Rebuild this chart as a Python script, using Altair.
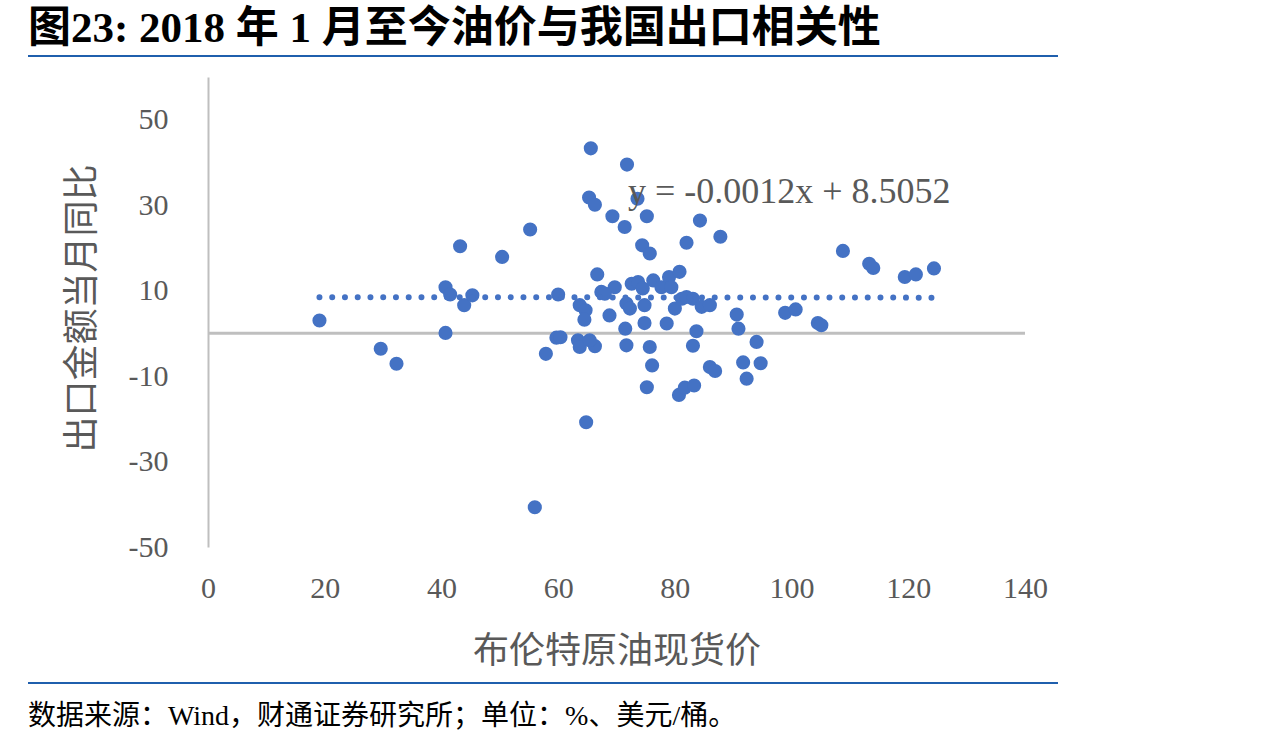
import altair as alt
import pandas as pd

# Scatter data: Brent spot price (x) vs export YoY (y)
brent = [19.1, 29.6, 32.3, 40.7, 40.7, 41.5, 43.9, 45.3, 43.2, 50.4,
         55.2, 60.0, 57.9, 59.7, 60.4, 65.6, 71.8, 65.3, 66.3, 73.6,
         69.3, 75.2, 71.4, 84.3, 87.8, 82.0, 74.4, 75.7, 108.8, 113.3,
         114.0, 119.4, 121.3, 124.4, 90.6, 90.9, 94.0, 91.7, 94.7, 92.3,
         86.0, 86.9, 98.9, 100.7, 104.5, 105.1, 64.8, 56.0, 75.2, 80.7,
         81.7, 83.3, 71.7, 75.7, 83.1, 76.1, 83.7, 66.3, 63.7, 64.7,
         64.5, 63.4, 63.7, 65.4, 66.7, 67.4, 69.7, 68.0, 68.8, 71.5,
         71.7, 72.3, 72.6, 73.7, 74.5, 76.3, 74.8, 74.8, 77.7, 79.0,
         80.8, 79.4, 78.6, 80.0, 81.2, 83.1, 82.0, 84.6, 86.0]
export_yoy = [3.0, -3.6, -7.1, 0.1, 10.8, 9.1, 6.6, 8.9, 20.4, 17.9,
              24.3, 9.1, -4.8, -1.0, -0.9, 43.3, 39.5, 31.8, 30.1, 31.5,
              27.4, 27.4, 24.9, 26.4, 22.6, 21.2, 20.6, 18.7, 19.3, 16.3,
              15.3, 13.2, 13.8, 15.2, 4.4, 1.1, -2.0, -6.8, -7.0, -10.6,
              -7.9, -8.8, 4.8, 5.6, 2.4, 1.9, -20.8, -40.7, -12.6, -14.4,
              -12.7, -12.2, -2.8, -3.2, -2.9, -7.5, 0.5, -3.0, 6.6, 5.4,
              3.2, -1.6, -3.2, -1.6, 13.8, 9.7, 10.8, 9.3, 4.2, 1.1,
              7.0, 5.8, 11.6, 12.0, 10.5, 12.4, 6.6, 2.4, 10.8, 13.2,
              14.4, 10.8, 2.3, 5.8, 8.1, 8.1, 8.5, 6.2, 6.6]

# Linear trend line endpoints (y = -0.0012x + 8.5052)
trend_x = [19.1, 124.4]
trend_y = [8.48, 8.36]

x_ticks = [0, 20, 40, 60, 80, 100, 120, 140]
y_ticks = [-50, -30, -10, 10, 30, 50]

title_text = "图23: 2018 年 1 月至今油价与我国出口相关性"
equation_text = "y = -0.0012x + 8.5052"
source_text = "数据来源：Wind，财通证券研究所；单位：%、美元/桶。"
x_title = "布伦特原油现货价"
y_title = "出口金额当月同比"

BLUE = "#4472C4"
GREY_TXT = "#595959"
SERIF = "Liberation Serif, Noto Sans CJK SC"

pts = pd.DataFrame({"brent": brent, "yoy": export_yoy})
trend = pd.DataFrame({"brent": trend_x, "yoy": trend_y})

xscale = alt.Scale(domain=[0, 140], nice=False, zero=False)
yscale = alt.Scale(domain=[-50, 60], nice=False, zero=False)

xaxis = alt.Axis(values=x_ticks, domain=False, ticks=False, grid=False,
                 labelFlush=False, labelExpr="'' + datum.value",
                 labelFont="Liberation Serif", labelFontSize=30, labelColor=GREY_TXT,
                 labelPadding=26, title=x_title, titleFont="Noto Sans CJK SC",
                 titleFontSize=36, titleFontWeight="normal", titleColor=GREY_TXT,
                 titleY=104, titleBaseline="middle")
yaxis = alt.Axis(values=y_ticks, domain=True, domainColor="#BFBFBF", domainWidth=2,
                 ticks=False, grid=False, labelExpr="'' + datum.value",
                 labelFont="Liberation Serif",
                 labelFontSize=30, labelColor=GREY_TXT, labelPadding=40,
                 title=y_title, titleFont="Noto Sans CJK SC", titleFontSize=36,
                 titleFontWeight="normal", titleColor=GREY_TXT, titleAngle=270,
                 titleX=-126, titleY=231, titleAlign="center", titleBaseline="middle")

zero_rule = alt.Chart(pd.DataFrame({"z": [0]})).mark_rule(
    color="#BFBFBF", strokeWidth=3).encode(y=alt.Y("z:Q", scale=yscale))

points = alt.Chart(pts).mark_circle(size=200, color=BLUE, opacity=1).encode(
    x=alt.X("brent:Q", scale=xscale, axis=xaxis),
    y=alt.Y("yoy:Q", scale=yscale, axis=yaxis),
)

trend_line = alt.Chart(trend).mark_line(
    color=BLUE, strokeWidth=6, strokeDash=[0.01, 12.74], strokeCap="round"
).encode(x=alt.X("brent:Q", scale=xscale), y=alt.Y("yoy:Q", scale=yscale))

one = pd.DataFrame({"t": [title_text], "e": [equation_text], "s": [source_text]})

title_mark = alt.Chart(one).mark_text(
    align="left", baseline="middle", font=SERIF, fontSize=43, fontWeight="bold",
    color="#000000").encode(text="t:N", x=alt.value(-180), y=alt.value(-48))

eq_mark = alt.Chart(one).mark_text(
    align="left", baseline="middle", font="Liberation Serif", fontSize=36,
    color=GREY_TXT).encode(text="e:N", x=alt.value(420), y=alt.value(115))

source_mark = alt.Chart(one).mark_text(
    align="left", baseline="middle", font=SERIF, fontSize=28,
    color="#000000").encode(text="s:N", x=alt.value(-180), y=alt.value(640))

top_line = alt.Chart(one).mark_rule(color="#1F5FAD", strokeWidth=2).encode(
    x=alt.value(-180), x2=alt.value(850), y=alt.value(-21))
bottom_line = alt.Chart(one).mark_rule(color="#1F5FAD", strokeWidth=2).encode(
    x=alt.value(-180), x2=alt.value(850), y=alt.value(606))

chart = alt.layer(
    zero_rule, points, trend_line, eq_mark, title_mark, source_mark, top_line, bottom_line
).properties(
    width=817, height=470,
    background="white",
    autosize=alt.AutoSizeParams(type="none"),
    padding={"left": 208, "top": 77, "right": 249, "bottom": 201},
).configure_view(stroke=None)

chart.save("out.html", embed_options={"renderer": "svg", "actions": False})
